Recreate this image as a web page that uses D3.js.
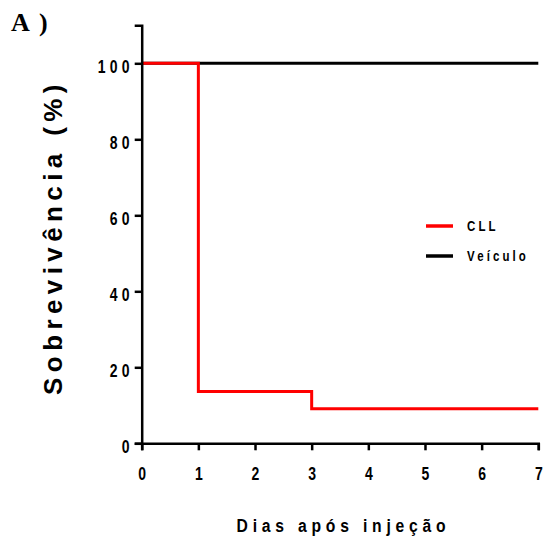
<!DOCTYPE html>
<html><head><meta charset="utf-8">
<script src="https://cdn.jsdelivr.net/npm/d3@7"></script>
<style>body{margin:0;background:#fff}</style>
</head><body>
<script>
const seriesNames = ["CLL", "Veículo"];
const seriesColors = ["#ff0000", "#000000"];
const cllDays = [0, 1, 3, 7];
const cllSurvival = [100, 13.64, 9.09, 9.09];
const veiculoDays = [0, 7];
const veiculoSurvival = [100, 100];
const xTicks = [0, 1, 2, 3, 4, 5, 6, 7];
const yTicks = [0, 20, 40, 60, 80, 100];

const W = 544, H = 545;
const svg = d3.select("body").append("svg").attr("width", W).attr("height", H);
const x = d3.scaleLinear().domain([0, 7]).range([141.7, 538.3]);
const y = d3.scaleLinear().domain([0, 110]).range([443.3, 25.3]);
const font = "'Liberation Sans', Arial, sans-serif";
const SX = 0.8;

const line = d3.line().x(d => x(d[0])).y(d => y(d[1])).curve(d3.curveStepAfter);
svg.append("path").attr("d", line(d3.zip(veiculoDays, veiculoSurvival))).attr("fill", "none")
  .attr("stroke", seriesColors[1]).attr("stroke-width", 3);
svg.append("path").attr("d", line(d3.zip(cllDays, cllSurvival))).attr("fill", "none")
  .attr("stroke", seriesColors[0]).attr("stroke-width", 3);

const xAxis = svg.append("g").attr("transform", `translate(0,${y(0)})`)
  .call(d3.axisBottom(x).tickValues(xTicks).tickSize(7).tickFormat(d3.format("d")));
const yAxis = svg.append("g").attr("transform", `translate(${x(0)},0)`)
  .call(d3.axisLeft(y).tickValues(yTicks).tickSize(7).tickFormat(d3.format("d")));
[xAxis, yAxis].forEach(g => {
  g.select(".domain").attr("stroke", "#000").attr("stroke-width", 2.5);
  g.selectAll(".tick line").attr("stroke", "#000").attr("stroke-width", 2.5);
  g.selectAll("text").attr("fill", "#000").style("font-family", font)
    .style("font-weight", "bold").style("font-size", "17.5px")
    .attr("transform", `scale(${SX},1)`);
});
xAxis.selectAll("text").style("letter-spacing", "0px")
  .attr("x", 0).attr("y", 36.7).attr("dy", 0);
yAxis.selectAll("text").style("letter-spacing", "5.3px")
  .attr("x", (-8) / SX).attr("y", 9).attr("dy", 0);

const serif = "'Liberation Serif', 'Times New Roman', serif";
svg.append("text").attr("x", 11).attr("y", 31).text("A")
  .style("font-family", serif).style("font-weight", "bold").style("font-size", "26px");
svg.append("text").attr("x", 39).attr("y", 31).text(")")
  .style("font-family", serif).style("font-weight", "bold").style("font-size", "26px");

svg.append("text").attr("transform", `translate(62,237) rotate(-90)`)
  .attr("text-anchor", "middle").text("Sobrevivência (%)")
  .style("font-family", font).style("font-weight", "bold")
  .style("font-size", "26px").style("letter-spacing", "5.4px");

svg.append("g").attr("transform", "translate(343.5,531.7)")
  .append("text").attr("transform", "scale(0.84,1)")
  .attr("text-anchor", "middle").text("Dias após injeção")
  .style("font-family", font).style("font-weight", "bold")
  .style("font-size", "18.7px").style("letter-spacing", "5.7px");

const legendY = [226, 256];
seriesNames.forEach((n, i) => {
  svg.append("line").attr("x1", 426).attr("x2", 453)
    .attr("y1", legendY[i]).attr("y2", legendY[i])
    .attr("stroke", seriesColors[i]).attr("stroke-width", 3.5);
  svg.append("g").attr("transform", `translate(467,${legendY[i] + 5})`)
    .append("text").attr("transform", "scale(0.82,1)").text(n)
    .style("font-family", font).style("font-weight", "bold")
    .style("font-size", "14px").style("letter-spacing", "3.8px");
});
</script>
</body></html>
